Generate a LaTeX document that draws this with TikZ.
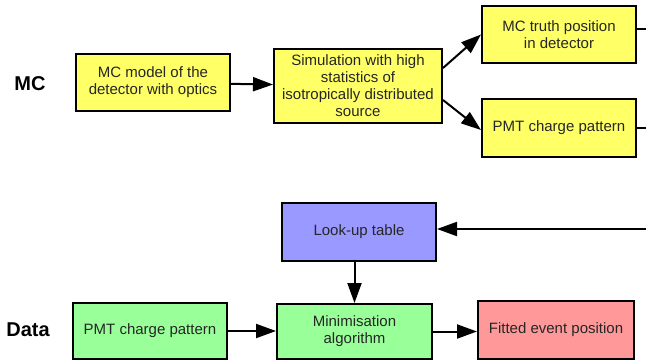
\documentclass[tikz,border=0pt]{standalone}
\usepackage{fontspec}
\setmainfont{Liberation Sans}
\usetikzlibrary{arrows.meta,calc}
\definecolor{boxyellow}{RGB}{255,255,102}
\definecolor{boxblue}{RGB}{153,153,255}
\definecolor{boxgreen}{RGB}{153,255,153}
\definecolor{boxred}{RGB}{255,153,153}
\tikzset{
  box/.style={draw=black, line width=1.5pt, align=center, inner sep=0pt,
    font=\fontsize{11.25pt}{12.75pt}\selectfont, text=black!85},
  conn/.style={line width=1.5pt, -{Triangle[length=15pt,width=10.5pt]}},
  plainline/.style={line width=1.5pt},
  rowlabel/.style={font=\fontsize{15pt}{18pt}\selectfont\bfseries, inner sep=0pt}
}
\begin{document}
\begin{tikzpicture}[x=0.75pt,y=-0.75pt]
\useasboundingbox (0,0) rectangle (646,361);
\node[rowlabel] (mclab) at (30,84) {MC};
\node[rowlabel] (datalab) at (28,330) {Data};

\node[box, fill=boxyellow, minimum width=154*0.75pt, minimum height=57*0.75pt] (mcmodel) at (153,82.5) {MC model of the\\detector with optics};
\node[box, fill=boxyellow, minimum width=168*0.75pt, minimum height=74*0.75pt] (sim) at (358,86) {Simulation with high\\statistics of\\isotropically distributed\\source};
\node[box, fill=boxyellow, minimum width=154*0.75pt, minimum height=57*0.75pt] (truth) at (559,34.5) {MC truth position\\in detector};
\node[box, fill=boxyellow, minimum width=154*0.75pt, minimum height=58*0.75pt] (pmtmc) at (559,128) {PMT charge pattern};

\node[box, fill=boxblue, minimum width=154*0.75pt, minimum height=58*0.75pt] (lut) at (359,232) {Look-up table};

\node[box, fill=boxgreen, minimum width=154*0.75pt, minimum height=56*0.75pt] (pmtd) at (150,331) {PMT charge pattern};
\node[box, fill=boxgreen, minimum width=155*0.75pt, minimum height=55*0.75pt] (min) at (354.5,331.5) {Minimisation\\algorithm};
\node[box, fill=boxred, minimum width=156*0.75pt, minimum height=58*0.75pt] (fit) at (556,330) {Fitted event position};

\coordinate (truthout) at (646,29);
\coordinate (pmtout) at (646,128);
\coordinate (lutin) at (646,229);

\draw[conn] (mcmodel) -- (sim);
\draw[conn] ([yshift=13.5pt]sim.east) -- (truth.west);
\draw[conn] ([yshift=-10.5pt]sim.east) -- ([yshift=-1.5pt]pmtmc.west);
\draw[plainline] (truthout -| truth.east) -- (truthout);
\draw[plainline] (pmtmc.east) -- (pmtout);
\draw[conn] (lutin) -- (lutin -| lut.east);
\draw[conn] (lut.south -| min.north) -- (min.north);
\draw[conn] (pmtd.east) -- (pmtd.east -| min.west);
\draw[conn] (min.east) -- (min.east -| fit.west);
\end{tikzpicture}
\end{document}
